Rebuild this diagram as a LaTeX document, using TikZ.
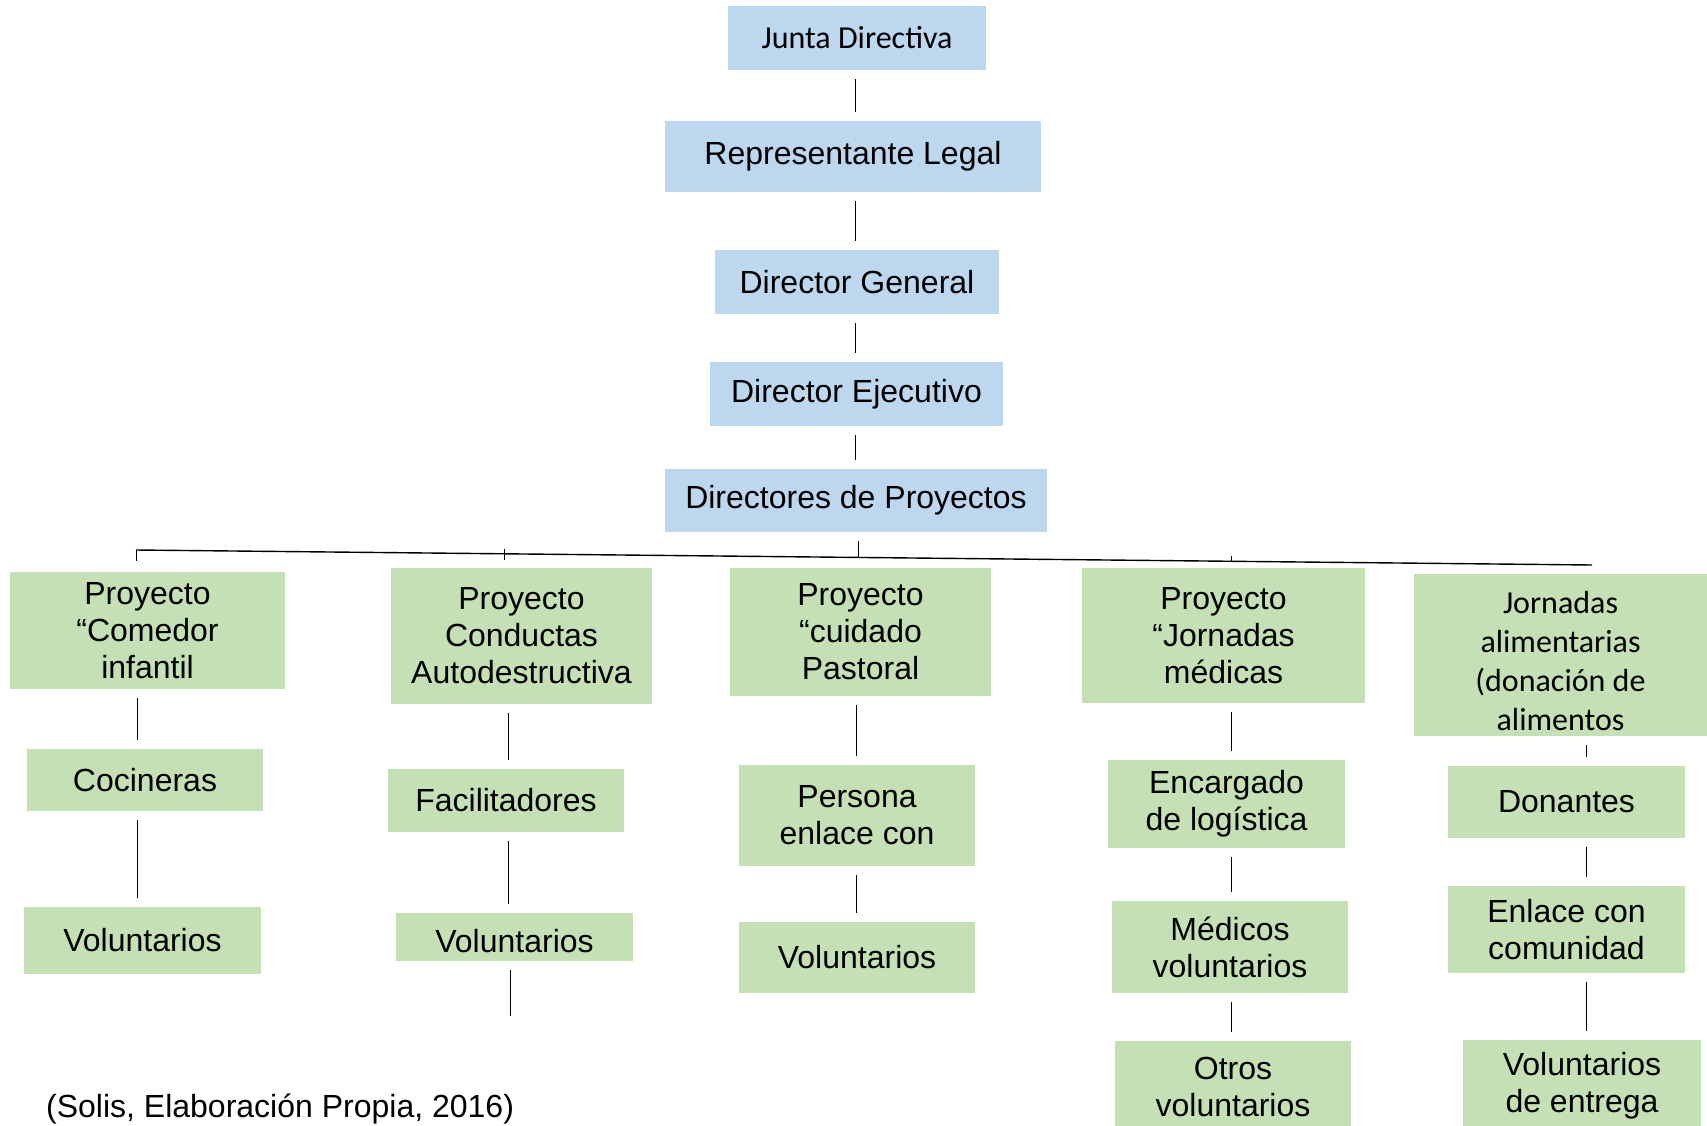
\documentclass[tikz,border=0pt]{standalone}
\usepackage{fontspec}
\setmainfont{Liberation Sans}
\newfontfamily\calibri{Carlito}
\usetikzlibrary{positioning}

\definecolor{cajaazul}{RGB}{189,215,238}
\definecolor{cajaverde}{RGB}{197,224,180}

\tikzset{
	azul/.style = {rectangle, fill=cajaazul, inner sep=0pt, align=center, font=\fontsize{32}{37}\selectfont},
	verde/.style = {rectangle, fill=cajaverde, inner sep=0pt, align=center, font=\fontsize{32}{37}\selectfont},
	letracal/.style = {font=\calibri\fontsize{32}{39}\selectfont},
	linea/.style = {draw=black, line width=0.9pt, shorten <=9pt, shorten >=9pt},
	barra/.style = {draw=black, line width=1.4pt},
}

\begin{document}
\begin{tikzpicture}[x=1pt, y=-1pt]
		
		\useasboundingbox (0,0) rectangle (1707,1126);
		
		% ejes de las columnas
		\coordinate (eje0) at (855,0);
		\coordinate (eje1) at (137,0);
		\coordinate (eje2) at (508,0);
		\coordinate (eje3) at (856,0);
		\coordinate (eje4) at (1231,0);
		\coordinate (eje5) at (1586,0);
		
		% direccion
		\node[azul, letracal, minimum width=258pt, minimum height=64pt] (jd) at (857,38) {Junta Directiva};
		\node[azul, minimum width=376pt, minimum height=71pt] (rl) at (853,156.5) {Representante Legal};
		\node[azul, minimum width=284pt, minimum height=64pt] (dg) at (857,282) {Director General};
		\node[azul, minimum width=293pt, minimum height=64pt] (de) at (856.5,394) {Director Ejecutivo};
		\node[azul, minimum width=382pt, minimum height=63pt] (dp) at (856,500.5) {Directores de Proyectos};
		
		\draw[linea] (jd.south -| eje0) -- (rl.north -| eje0);
		\draw[linea] (rl.south -| eje0) -- (dg.north -| eje0);
		\draw[linea] (dg.south -| eje0) -- (de.north -| eje0);
		\draw[linea] (de.south -| eje0) -- (dp.north -| eje0);
		
		% barra de proyectos
		\coordinate (bus-i) at (136,550);
		\coordinate (bus-d) at (1592,565);
		\coordinate (bus-c) at (858,557.5);
		\draw[barra] (bus-i) -- (bus-d);
		\draw[linea, shorten >=0pt] (dp.south -| bus-c) -- (bus-c);
		\draw[linea, shorten <=0pt, shorten >=0pt] (bus-i) -- ++(0,11);
		\draw[linea, shorten <=0pt, shorten >=0pt] (504,549) -- (504,560);
		\draw[linea, shorten <=0pt, shorten >=0pt] (1231,556) -- (1231,561);
		
		% proyecto comedor
		\node[verde, minimum width=275pt, minimum height=117pt] (p1) at (147.5,630.5) {Proyecto\\“Comedor\\infantil};
		\node[verde, minimum width=236pt, minimum height=62pt] (c1) at (145,780) {Cocineras};
		\node[verde, minimum width=237pt, minimum height=67pt] (v1) at (142.5,940.5) {Voluntarios};
		
		\draw[linea] (p1.south -| eje1) -- (c1.north -| eje1);
		\draw[linea] (c1.south -| eje1) -- (v1.north -| eje1);
		
		% proyecto conductas
		\node[verde, minimum width=261pt, minimum height=136pt] (p2) at (521.5,636) {Proyecto\\Conductas\\Autodestructiva};
		\node[verde, minimum width=236pt, minimum height=63pt] (f2) at (506,800.5) {Facilitadores};
		\node[verde, minimum width=237pt, minimum height=48pt] (v2) at (514.5,937) {\rule{0pt}{32pt}Voluntarios};
		\coordinate (fin2) at (510,1016);
		
		\draw[linea] (p2.south -| eje2) -- (f2.north -| eje2);
		\draw[linea] (f2.south -| eje2) -- (v2.north -| eje2);
		\draw[linea, shorten >=0pt] (v2.south -| fin2) -- (fin2);
		
		% proyecto cuidado pastoral
		\node[verde, minimum width=261pt, minimum height=128pt] (p3) at (860.5,632) {Proyecto\\“cuidado\\Pastoral};
		\node[verde, minimum width=236pt, minimum height=101pt] (pe3) at (857,815.5) {Persona\\enlace con};
		\node[verde, minimum width=236pt, minimum height=71pt] (v3) at (857,957.5) {Voluntarios};
		
		\draw[linea] (p3.south -| eje3) -- (pe3.north -| eje3);
		\draw[linea] (pe3.south -| eje3) -- (v3.north -| eje3);
		
		% proyecto jornadas medicas
		\node[verde, minimum width=283pt, minimum height=135pt] (p4) at (1223.5,635.5) {Proyecto\\“Jornadas\\médicas};
		\node[verde, minimum width=237pt, minimum height=88pt] (e4) at (1226.5,804) {Encargado\\de logística};
		\node[verde, minimum width=236pt, minimum height=92pt] (m4) at (1230,947) {Médicos\\voluntarios};
		\node[verde, minimum width=236pt, minimum height=92pt] (o4) at (1233,1087) {Otros\\voluntarios};
		
		\draw[linea] (p4.south -| eje4) -- (e4.north -| eje4);
		\draw[linea] (e4.south -| eje4) -- (m4.north -| eje4);
		\draw[linea] (m4.south -| eje4) -- (o4.north -| eje4);
		
		% jornadas alimentarias
		\node[verde, letracal, minimum width=293pt, minimum height=162pt] (j5) at (1560.5,655) {\rule{0pt}{34pt}Jornadas\\alimentarias\\(donación de\\alimentos};
		\node[verde, minimum width=237pt, minimum height=72pt] (d5) at (1566.5,802) {Donantes};
		\node[verde, minimum width=237pt, minimum height=87pt] (ec5) at (1566.5,929.5) {Enlace con\\comunidad};
		\node[verde, minimum width=238pt, minimum height=92pt] (ve5) at (1582,1086) {Voluntarios\\de entrega};
		
		\draw[linea] (j5.south -| eje5) -- (d5.north -| eje5);
		\draw[linea] (d5.south -| eje5) -- (ec5.north -| eje5);
		\draw[linea] (ec5.south -| eje5) -- (ve5.north -| eje5);
		
		% fuente
		\node[anchor=base west, inner sep=0pt, font=\fontsize{32}{37}\selectfont] (fuente) at (46,1117) {(Solis, Elaboración Propia, 2016)};
		
	\end{tikzpicture}
\end{document}
